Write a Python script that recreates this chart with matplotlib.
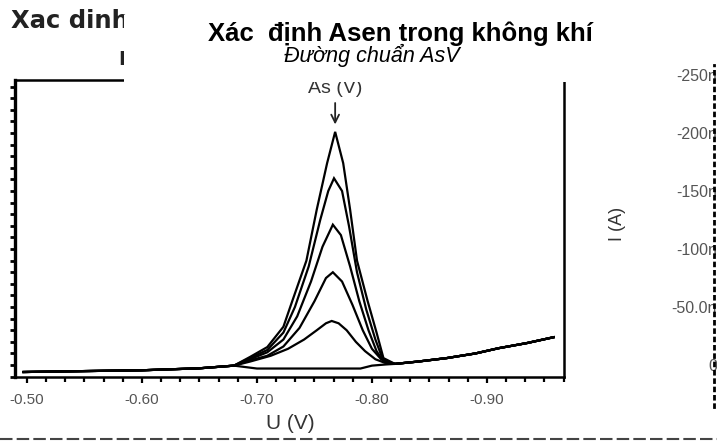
import matplotlib
matplotlib.use('Agg')
import matplotlib.pyplot as plt
from matplotlib.patches import Rectangle
from matplotlib.lines import Line2D
from matplotlib.ticker import MultipleLocator, AutoMinorLocator

# ---- data (U in V, I in nA) ----
base_v_left = [-0.497, -0.550, -0.600, -0.650, -0.680]
base_i_left = [6.0, 5.2, 4.5, 2.8, 0.5]
base_v_right = [-0.820, -0.840, -0.865, -0.890, -0.910, -0.935, -0.958]
base_i_right = [-1.0, -3.0, -6.0, -10.0, -14.5, -19.0, -24.0]

blank_v = [-0.700, -0.750, -0.790, -0.800, -0.812]
blank_i = [3.0, 3.0, 3.0, 0.5, -0.5]

s1_v = [-0.694, -0.712, -0.727, -0.741, -0.752, -0.760, -0.765, -0.771, -0.778, -0.786, -0.794, -0.803, -0.811]
s1_i = [-3, -8, -14, -22, -30, -36, -38, -36, -30, -20, -12, -5, -2]

s2_v = [-0.694, -0.709, -0.723, -0.737, -0.750, -0.760, -0.766, -0.774, -0.783, -0.792, -0.800, -0.808]
s2_i = [-4, -8, -16, -32, -55, -75, -80, -72, -52, -30, -14, -5]

s3_v = [-0.694, -0.709, -0.723, -0.735, -0.747, -0.757, -0.766, -0.773, -0.781, -0.789, -0.797, -0.804, -0.810]
s3_i = [-5, -11, -22, -42, -72, -102, -121, -112, -85, -55, -30, -12, -3]

s4_v = [-0.694, -0.709, -0.723, -0.733, -0.745, -0.755, -0.762, -0.767, -0.774, -0.780, -0.787, -0.795, -0.803, -0.809, -0.815]
s4_i = [-6, -13, -28, -50, -85, -125, -150, -161, -150, -120, -80, -48, -22, -6, -1]

s5_v = [-0.694, -0.709, -0.723, -0.731, -0.743, -0.752, -0.761, -0.768, -0.775, -0.781, -0.787, -0.796, -0.804, -0.810]
s5_i = [-7, -15.5, -33, -56, -90, -134, -174, -201, -174, -134, -90, -56, -28, -6]

peak_label = 'As (V)'
peak_v, peak_i = -0.768, -205
label_i = -238

x_ticks = [-0.50, -0.60, -0.70, -0.80, -0.90]
x_labels = ['-0.50', '-0.60', '-0.70', '-0.80', '-0.90']
right_ticks = [-250, -200, -150, -100, -50, 0]
right_labels = ['-250n', '-200n', '-150n', '-100n', '-50.0n', '0']

W, H = 717, 443


def fx(px):
    return px / W


def fy(py):
    return 1 - py / H


plt.rcParams['font.family'] = ['Liberation Sans', 'DejaVu Sans']

fig = plt.figure(figsize=(W / 100, H / 100), dpi=100)
fig.patch.set_facecolor('white')

ax = fig.add_axes([fx(15), fy(377), (564 - 15) / W, (377 - 80) / H])
ax.set_xlim(-0.4896, -0.967)
ax.set_ylim(10.3, -245.7)

for sv, si in [(blank_v, blank_i), (s1_v, s1_i), (s2_v, s2_i),
               (s3_v, s3_i), (s4_v, s4_i), (s5_v, s5_i)]:
    ax.plot(base_v_left + sv + base_v_right, base_i_left + si + base_i_right,
            color='black', lw=1.6, solid_joinstyle='miter')

ax.annotate(peak_label, xy=(peak_v, peak_i), xytext=(peak_v, label_i),
            ha='center', va='center', fontsize=14, color='#333333',
            arrowprops=dict(arrowstyle='->', color='#222222', lw=1.3))

for side in ['left', 'bottom', 'top', 'right']:
    ax.spines[side].set_linewidth(1.8)
ax.spines['left'].set_linewidth(2.4)

ax.set_xticks(x_ticks)
ax.set_xticklabels(x_labels, fontsize=11, color='#555555')
ax.xaxis.set_minor_locator(AutoMinorLocator(6))
ax.tick_params(axis='x', which='major', direction='out', length=4.5, width=1.6, pad=7)
ax.tick_params(axis='x', which='minor', direction='out', length=3.5, width=1.6)
ax.yaxis.set_major_locator(MultipleLocator(10))
ax.tick_params(axis='y', which='major', direction='out', length=3.5, width=2, labelleft=False)

ax.set_xlabel('U (V)', fontsize=15, color='#333333')
ax.xaxis.set_label_coords(0.501, -0.125)
ax.set_ylabel('I (A)', fontsize=13, color='#333333')
ax.yaxis.set_label_position('right')
ax.yaxis.label.set_va('center')
ax.yaxis.set_label_coords(1.098, 0.515)

# cropped right-hand current scale of the scan
ax2 = fig.add_axes([fx(714), fy(407), 2 / W, (407 - 65) / H])
ax2.set_ylim(36.2, -258.6)
ax2.patch.set_alpha(0)
for side in ['top', 'right', 'bottom']:
    ax2.spines[side].set_visible(False)
ax2.spines['left'].set_linestyle((0, (1, 2)))
ax2.spines['left'].set_linewidth(2)
ax2.set_xticks([])
ax2.set_yticks(right_ticks)
ax2.set_yticklabels(right_labels, fontsize=11.5, color='#555555')
ax2.tick_params(axis='y', length=0, pad=-2)

# old scanned heading, mostly hidden behind the new title box
fig.text(fx(11), fy(28), 'Xac dinh', fontsize=17.5,
         fontweight='bold', family='DejaVu Sans', color='#222222', zorder=1)
fig.text(fx(118), fy(65), 'Duong', fontsize=14,
         fontweight='bold', family='DejaVu Sans', color='#222222', zorder=1)

fig.add_artist(Rectangle((fx(124), fy(82)), (655 - 124) / W, (82 - 15) / H,
                         transform=fig.transFigure, facecolor='white',
                         edgecolor='none', zorder=5))
fig.text(fx(400), fy(41), 'Xác  định Asen trong không khí', ha='center',
         va='baseline', fontsize=18.5, fontweight='bold', color='black', zorder=6)
fig.text(fx(372), fy(62), 'Đường chuẩn AsV', ha='center', va='baseline',
         fontsize=15.5, style='italic', color='black', zorder=6)

fig.add_artist(Line2D([0, 1], [fy(439), fy(439)], transform=fig.transFigure,
                      color='#444444', lw=1.5, linestyle=(0, (6, 2)), zorder=1))

fig.savefig('out.png', dpi=100)
